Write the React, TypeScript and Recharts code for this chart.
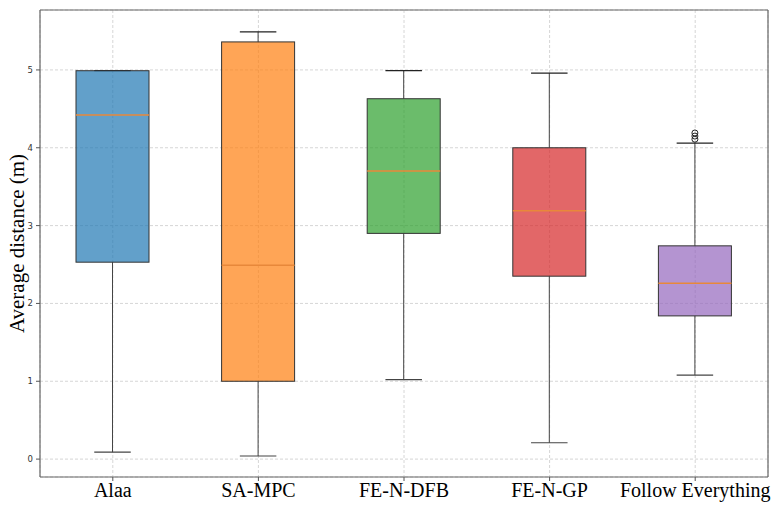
import { ComposedChart, Bar, XAxis, YAxis, CartesianGrid } from 'recharts'

const categories = ['Alaa', 'SA-MPC', 'FE-N-DFB', 'FE-N-GP', 'Follow Everything']
const whiskerLow = [0.09, 0.04, 1.02, 0.21, 1.08]
const q1 = [2.53, 1.0, 2.9, 2.35, 1.84]
const median = [4.42, 2.49, 3.7, 3.19, 2.26]
const q3 = [4.99, 5.36, 4.63, 4.0, 2.74]
const whiskerHigh = [4.99, 5.49, 4.99, 4.96, 4.06]
const outliers: number[][] = [[], [], [], [], [4.11, 4.15, 4.19]]
const yTicks = [0, 1, 2, 3, 4, 5]

const COLORS = ['#1f77b4', '#ff7f0e', '#2ca02c', '#d62728', '#9467bd']

const data = categories.map((name, i) => ({
  name,
  low: whiskerLow[i],
  q1: q1[i],
  median: median[i],
  q3: q3[i],
  high: whiskerHigh[i],
  outliers: outliers[i],
  color: COLORS[i],
}))

// draws the whole box + whiskers, using the bar's own pixel span (low..high) as the scale
function BoxShape(props: any) {
  const { x, y, width, height, payload } = props
  const top = Math.min(y, y + height)
  const h = Math.abs(height)
  const ppu = h / (payload.high - payload.low)
  const toY = (v: number) => top + (payload.high - v) * ppu
  const cx = x + width / 2
  const capHalf = width / 4
  const yQ1 = toY(payload.q1)
  const yQ3 = toY(payload.q3)
  const yMed = toY(payload.median)
  const yLow = toY(payload.low)
  const yHigh = toY(payload.high)
  return (
    <g>
      <line x1={cx} x2={cx} y1={yQ1} y2={yLow} stroke="#444" strokeWidth={1} />
      <line x1={cx} x2={cx} y1={yQ3} y2={yHigh} stroke="#444" strokeWidth={1} />
      <line x1={cx - capHalf} x2={cx + capHalf} y1={yLow} y2={yLow} stroke="#444" strokeWidth={1.2} />
      <line x1={cx - capHalf} x2={cx + capHalf} y1={yHigh} y2={yHigh} stroke="#222" strokeWidth={1.2} />
      <rect
        x={x}
        y={yQ3}
        width={width}
        height={yQ1 - yQ3}
        fill={payload.color}
        fillOpacity={0.7}
        stroke="#333"
        strokeWidth={1}
      />
      <line x1={x} x2={x + width} y1={yMed} y2={yMed} stroke="#e8883a" strokeWidth={1.5} />
      {payload.outliers.map((v: number, i: number) => (
        <circle key={i} cx={cx} cy={toY(v)} r={3} fill="none" stroke="#222" strokeWidth={1} />
      ))}
    </g>
  )
}

export default function App() {
  return (
    <div style={{ position: 'absolute', left: 0, top: 0, width: 775, height: 506, background: '#fff' }}>
      <ComposedChart
        width={775}
        height={506}
        data={data}
        margin={{ top: 9, right: 6, left: 0, bottom: 0 }}
      >
        <CartesianGrid strokeDasharray="3 2" stroke="#d6d6d6" />
        <XAxis
          dataKey="name"
          height={29}
          tickLine={{ stroke: '#555' }}
          tickSize={4}
          tickMargin={2}
          axisLine={{ stroke: '#666', strokeWidth: 1.2 }}
          tick={{ fontSize: 20, fill: '#000', fontFamily: 'Liberation Serif, serif' }}
          interval={0}
        />
        <XAxis
          xAxisId="top"
          orientation="top"
          dataKey="name"
          height={1}
          tick={false}
          tickLine={false}
          axisLine={{ stroke: '#666', strokeWidth: 1.2 }}
        />
        <YAxis
          width={40}
          domain={[-0.23, 5.77]}
          ticks={yTicks}
          allowDataOverflow
          tickLine={{ stroke: '#555' }}
          tickSize={4}
          tickMargin={3}
          axisLine={{ stroke: '#666', strokeWidth: 1.2 }}
          tick={{ fontSize: 8.5, fill: '#333', fontFamily: 'DejaVu Sans, sans-serif' }}
          label={{
            value: 'Average distance (m)',
            angle: -90,
            position: 'center',
            dx: -3,
            style: { fontSize: 21, fill: '#000', fontFamily: 'Liberation Serif, serif' },
          }}
        />
        <YAxis
          yAxisId="right"
          orientation="right"
          width={1}
          domain={[-0.23, 5.77]}
          tick={false}
          tickLine={false}
          axisLine={{ stroke: '#666', strokeWidth: 1.2 }}
        />
        <Bar
          dataKey={(d: any) => [d.low, d.high]}
          barSize={73}
          shape={BoxShape}
          isAnimationActive={false}
        />
      </ComposedChart>
    </div>
  )
}
